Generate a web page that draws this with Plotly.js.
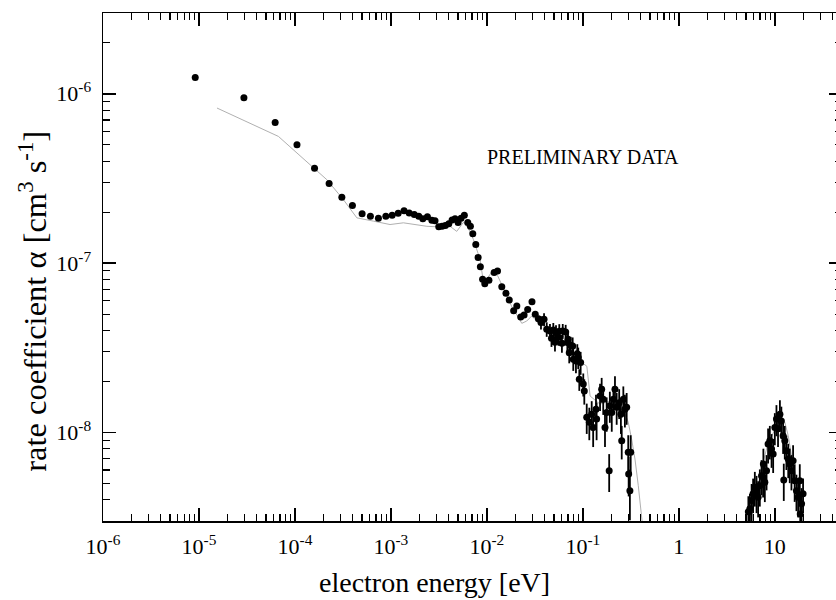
<!DOCTYPE html>
<html>
<head>
<meta charset="utf-8">
<script src="https://cdn.plot.ly/plotly-3.0.1.min.js"></script>
<style>
  html, body { margin: 0; padding: 0; background: #ffffff; overflow: hidden; }
  #chart { width: 850px; height: 600px; }
</style>
</head>
<body>
<div id="chart"></div>
<script>
// ---- measured data: electron energy [eV] and rate coefficient [cm^3 s^-1] ----
const energy = [
  9.14e-6, 2.94e-5, 6.22e-5, 1.05e-4, 1.60e-4, 2.27e-4, 3.08e-4, 3.97e-4, 5.01e-4, 6.11e-4,
  7.41e-4, 8.85e-4, 1.03e-3, 1.19e-3, 1.37e-3, 1.55e-3, 1.75e-3, 1.95e-3, 2.15e-3, 2.40e-3,
  2.67e-3, 2.88e-3, 3.15e-3, 3.41e-3, 3.69e-3, 4.01e-3, 4.34e-3, 4.66e-3, 5.01e-3, 5.38e-3,
  5.82e-3, 6.32e-3, 6.73e-3, 7.13e-3, 7.66e-3, 8.10e-3, 8.55e-3, 9.02e-3, 9.51e-3, 1.05e-2,
  1.19e-2, 1.29e-2, 1.43e-2, 1.58e-2, 1.71e-2, 1.90e-2, 2.05e-2, 2.25e-2, 2.44e-2, 2.66e-2,
  2.95e-2, 3.19e-2, 3.44e-2,
  3.66e-2, 3.94e-2, 4.20e-2, 4.54e-2, 4.71e-2, 4.92e-2, 5.12e-2, 5.25e-2, 5.57e-2, 5.68e-2,
  6.05e-2, 6.17e-2, 6.62e-2, 6.89e-2, 7.00e-2, 7.21e-2, 7.46e-2, 7.83e-2, 7.94e-2, 8.47e-2,
  8.75e-2, 8.95e-2, 9.18e-2, 9.48e-2, 0.101, 0.1035, 0.1097, 0.1167, 0.1236, 0.128,
  0.137, 0.139, 0.151, 0.157, 0.163, 0.170, 0.177, 0.188, 0.191, 0.200,
  0.208, 0.216, 0.225, 0.239, 0.249, 0.254, 0.264, 0.274, 0.286, 0.297,
  0.300, 0.309, 0.315,
  5.3, 5.50, 5.73, 5.94, 6.19, 6.45, 6.70, 6.98, 7.27, 7.55,
  7.6, 7.87, 8.20, 8.51, 8.87, 9.25, 9.61, 10.0, 10.4, 10.8,
  11.3, 11.7, 12.2, 12.4, 12.7, 13.2, 13.8, 14.3, 14.9, 15.5,
  16.1, 16.8, 17.5, 18.2, 18.4, 19.0, 19.7
];
const rate = [
  1.25e-6, 9.47e-7, 6.77e-7, 5.0e-7, 3.63e-7, 2.95e-7, 2.45e-7, 2.19e-7, 1.96e-7, 1.89e-7,
  1.84e-7, 1.89e-7, 1.92e-7, 1.97e-7, 2.04e-7, 1.98e-7, 1.94e-7, 1.89e-7, 1.83e-7, 1.88e-7,
  1.79e-7, 1.78e-7, 1.64e-7, 1.65e-7, 1.67e-7, 1.71e-7, 1.80e-7, 1.83e-7, 1.74e-7, 1.84e-7,
  1.92e-7, 1.74e-7, 1.65e-7, 1.49e-7, 1.29e-7, 1.08e-7, 9.52e-8, 8.02e-8, 7.56e-8, 7.91e-8,
  8.79e-8, 8.97e-8, 7.26e-8, 6.63e-8, 6.05e-8, 5.24e-8, 5.58e-8, 4.81e-8, 4.94e-8, 5.33e-8,
  5.92e-8, 4.99e-8, 4.70e-8,
  4.46e-8, 4.66e-8, 4.07e-8, 3.97e-8, 3.60e-8, 4.03e-8, 3.41e-8, 3.89e-8, 3.65e-8, 3.96e-8,
  3.36e-8, 3.97e-8, 3.92e-8, 3.40e-8, 3.55e-8, 2.96e-8, 3.27e-8, 3.24e-8, 2.71e-8, 2.64e-8,
  2.92e-8, 2.77e-8, 2.06e-8, 2.59e-8, 1.93e-8, 1.76e-8, 1.23e-8, 1.15e-8, 1.28e-8, 1.07e-8,
  1.37e-8, 1.20e-8, 1.64e-8, 1.80e-8, 1.57e-8, 1.07e-8, 1.31e-8, 5.95e-9, 1.44e-8, 1.31e-8,
  1.57e-8, 1.80e-8, 1.41e-8, 1.50e-8, 1.28e-8, 8.93e-9, 1.57e-8, 1.37e-8, 1.41e-8, 7.63e-9,
  5.69e-9, 4.53e-9, 7.63e-9,
  3.4e-9, 3.54e-9, 3.96e-9, 4.34e-9, 4.75e-9, 4.44e-9, 4.15e-9, 4.85e-9, 5.56e-9, 5.43e-9,
  6.52e-9, 5.08e-9, 5.95e-9, 8.55e-9, 8.93e-9, 7.98e-9, 7.46e-9, 1.07e-8, 1.20e-8, 1.05e-8,
  1.28e-8, 1.17e-8, 9.57e-9, 5.24e-9, 8.93e-9, 7.80e-9, 6.97e-9, 6.52e-9, 5.95e-9, 6.81e-9,
  5.19e-9, 4.53e-9, 4.15e-9, 5.19e-9, 3.30e-9, 3.79e-9, 4.34e-9
];
const rateErr = [
  0, 0, 0, 0, 0, 0, 0, 0, 0, 0,
  0, 0, 0, 0, 0, 0, 0, 0, 0, 0,
  0, 0, 0, 0, 0, 0, 0, 0, 0, 0,
  0, 0, 0, 0, 0, 0, 0, 0, 0, 0,
  0, 0, 0, 0, 0, 0, 0, 0, 0, 0,
  0, 0, 0,
  4e-9, 4e-9, 4e-9, 4e-9, 4e-9, 4e-9, 4e-9, 4e-9, 4e-9, 4e-9,
  4e-9, 4e-9, 4e-9, 4e-9, 4e-9, 4e-9, 4e-9, 4e-9, 4e-9, 4e-9,
  4e-9, 4e-9, 3e-9, 4e-9, 3e-9, 3e-9, 2.5e-9, 2.5e-9, 2.5e-9, 2.5e-9,
  3e-9, 3e-9, 3e-9, 3e-9, 3e-9, 2.5e-9, 3e-9, 1.5e-9, 3e-9, 3e-9,
  3e-9, 3.5e-9, 3e-9, 3e-9, 3e-9, 2e-9, 3e-9, 3e-9, 3e-9, 2e-9,
  1.5e-9, 1.5e-9, 2e-9,
  0.8e-9, 0.8e-9, 1e-9, 1e-9, 1.1e-9, 1.1e-9, 1e-9, 1.2e-9, 1.3e-9, 1.3e-9,
  1.5e-9, 1.2e-9, 1.4e-9, 2e-9, 2e-9, 1.8e-9, 1.7e-9, 2.3e-9, 2.5e-9, 2.3e-9,
  2.7e-9, 2.5e-9, 2.1e-9, 1.3e-9, 2e-9, 1.8e-9, 1.6e-9, 1.5e-9, 1.4e-9, 1.6e-9,
  1.3e-9, 1.1e-9, 1e-9, 1.3e-9, 0.8e-9, 0.9e-9, 1e-9
];

// ---- grey comparison curve ----
const curveEnergy = [
  1.54e-5, 3.42e-5, 6.73e-5, 1.05e-4, 2.15e-4, 3.20e-4, 4.42e-4, 6.58e-4, 9.79e-4, 1.35e-3,
  1.86e-3, 2.37e-3, 3.01e-3, 4.13e-3, 4.85e-3, 5.69e-3, 6.37e-3, 7.23e-3, 8.50e-3, 9.06e-3,
  9.95e-3, 1.17e-2, 1.29e-2, 1.55e-2, 1.83e-2, 2.06e-2, 2.31e-2, 2.60e-2, 2.93e-2, 3.33e-2,
  4.03e-2, 5.12e-2, 6.52e-2, 8.07e-2, 9.73e-2, 0.110, 0.119, 0.151, 0.191, 0.243,
  0.297, 0.322, 0.349, 0.378, 0.394, 0.409, 0.425,
  null,
  5.37, 5.94, 6.65, 7.55, 8.46, 10.0, 11.3, 12.7, 13.8, 14.9, 16.8, 18.2, 19.0, 19.6
];
const curveRate = [
  8.24e-7, 6.69e-7, 5.60e-7, 4.47e-7, 3.11e-7, 2.37e-7, 1.85e-7, 1.77e-7, 1.69e-7, 1.73e-7,
  1.69e-7, 1.65e-7, 1.64e-7, 1.65e-7, 1.54e-7, 1.74e-7, 1.62e-7, 1.38e-7, 1.05e-7, 8.20e-8,
  8.02e-8, 9.18e-8, 8.46e-8, 6.81e-8, 5.48e-8, 4.92e-8, 4.41e-8, 4.55e-8, 4.87e-8, 4.53e-8,
  4.18e-8, 3.85e-8, 3.65e-8, 3.32e-8, 2.59e-8, 2.46e-8, 1.64e-8, 1.47e-8, 1.53e-8, 1.55e-8,
  1.15e-8, 9.14e-9, 6.97e-9, 4.85e-9, 3.70e-9, 3.17e-9, 2.6e-9,
  null,
  2.88e-9, 4.05e-9, 4.77e-9, 6.67e-9, 8.55e-9, 1.05e-8, 1.20e-8, 1.15e-8, 9.57e-9, 7.29e-9, 5.31e-9, 4.05e-9, 3.23e-9, 2.6e-9
];

// ---- tick labels ----
const xTickVals = [1e-6, 1e-5, 1e-4, 1e-3, 1e-2, 1e-1, 1, 10];
const xTickText = ['10<sup>-6</sup>', '10<sup>-5</sup>', '10<sup>-4</sup>', '10<sup>-3</sup>',
                   '10<sup>-2</sup>', '10<sup>-1</sup>', '1', '10'];
const yTickVals = [1e-8, 1e-7, 1e-6];
const yTickText = ['10<sup>-8</sup>', '10<sup>-7</sup>', '10<sup>-6</sup>'];

function minorTicks(fromExp, toExp) {
  const out = [];
  for (let e = fromExp; e <= toExp; e++) {
    for (let k = 2; k <= 9; k++) out.push(k * Math.pow(10, e));
  }
  return out;
}

const serif = 'Liberation Serif, Times New Roman, serif';

const traces = [
  {
    x: curveEnergy, y: curveRate, type: 'scatter', mode: 'lines',
    line: { color: '#b0b0b0', width: 1 }, connectgaps: false,
    hoverinfo: 'skip', showlegend: false
  },
  {
    x: energy, y: rate, type: 'scatter', mode: 'markers',
    marker: { color: '#000000', size: 7 },
    error_y: { type: 'data', array: rateErr, visible: true, color: '#000000', thickness: 1.8, width: 0 },
    showlegend: false
  }
];

const axisCommon = {
  type: 'log', showline: true, linecolor: '#000', linewidth: 1.5, mirror: 'ticks',
  ticks: 'inside', ticklen: 13, tickwidth: 1.5, tickcolor: '#000',
  tickmode: 'array', showgrid: false, zeroline: false,
  tickfont: { family: serif, size: 22, color: '#000' }
};

const layout = {
  width: 850, height: 600,
  margin: { l: 103, r: 8, t: 13, b: 79 },
  paper_bgcolor: '#fff', plot_bgcolor: '#fff',
  showlegend: false,
  xaxis: Object.assign({}, axisCommon, {
    range: [-6, 1.7],
    tickvals: xTickVals, ticktext: xTickText,
    ticklabelstandoff: 5,
    minor: { tickmode: 'array', tickvals: minorTicks(-6, 1), ticks: 'inside', ticklen: 7, tickwidth: 1.2, tickcolor: '#000', showgrid: false }
  }),
  yaxis: Object.assign({}, axisCommon, {
    range: [Math.log10(3e-9), Math.log10(3e-6)],
    tickvals: yTickVals, ticktext: yTickText,
    ticklabelstandoff: 6,
    minor: { tickmode: 'array', tickvals: minorTicks(-9, -6), ticks: 'inside', ticklen: 7, tickwidth: 1.2, tickcolor: '#000', showgrid: false }
  }),
  annotations: [
    { text: 'electron energy [eV]', xref: 'paper', yref: 'paper', x: 0.448, y: -0.122,
      xanchor: 'center', yanchor: 'middle', showarrow: false,
      font: { family: serif, size: 28, color: '#000' } },
    { text: 'rate coefficient α [cm<sup>3</sup> s<sup>-1</sup>]', xref: 'paper', yref: 'paper',
      x: -0.095, y: 0.433, xanchor: 'center', yanchor: 'middle', textangle: -90, showarrow: false,
      font: { family: serif, size: 32.5, color: '#000' } },
    { text: 'PRELIMINARY DATA', xref: 'paper', yref: 'paper', x: 0.6495, y: 0.7165,
      xanchor: 'center', yanchor: 'middle', showarrow: false,
      font: { family: serif, size: 20, color: '#000' } }
  ]
};

Plotly.newPlot('chart', traces, layout, { staticPlot: true, displayModeBar: false });
</script>
</body>
</html>
